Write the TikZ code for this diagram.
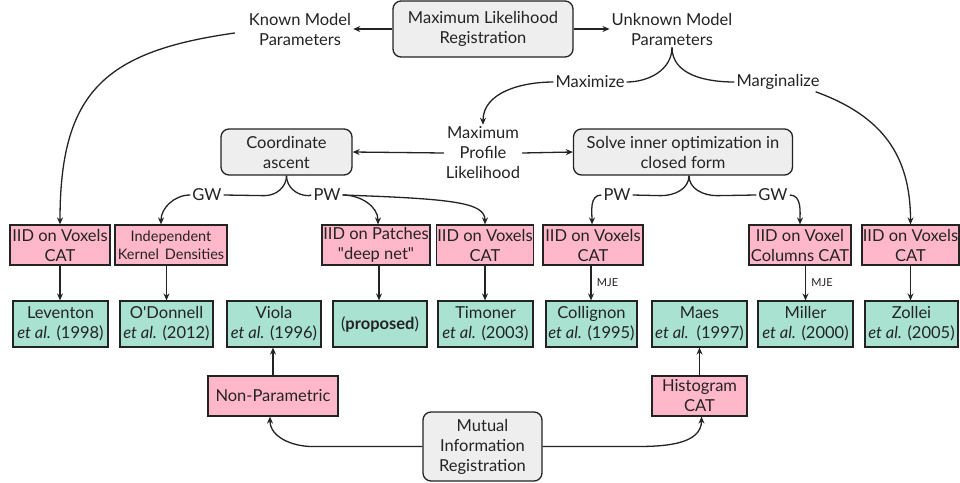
\documentclass[tikz,border=0pt]{standalone}
\usepackage{fontspec}
\setmainfont{Lato}
\usetikzlibrary{arrows.meta,calc}
\definecolor{pk}{RGB}{255,183,201}
\definecolor{gr}{RGB}{170,226,210}
\definecolor{gy}{RGB}{238,238,238}
\definecolor{ln}{RGB}{35,35,35}
\begin{document}
\begin{tikzpicture}[x=1pt,y=1pt,
  every node/.style={font=\fontsize{16.5}{20}\selectfont, align=center, text=ln},
  rbox/.style={draw=ln, line width=1.3pt, fill=gy, rounded corners=8pt, minimum height=46pt, inner sep=0pt},
  pbox/.style={draw=ln, line width=1.2pt, fill=pk, minimum height=40pt, inner sep=0pt},
  gbox/.style={draw=ln, line width=1.2pt, fill=gr, minimum height=46pt, inner sep=0pt},
  txt/.style={inner sep=2pt},
  small/.style={font=\fontsize{11}{13}\selectfont},
  conn/.style={draw=ln, line width=1.3pt},
  arr/.style={conn, -{Stealth[length=7pt,width=6pt]}},
]
\useasboundingbox (0,0) rectangle (960,-482);

% top
\node[rbox, minimum width=180pt, minimum height=56pt] (mlr) at (483,-29) {Maximum Likelihood\\Registration};
\node[txt] (known) at (300,-29) {Known Model\\Parameters};
\node[txt] (unknown) at (672,-29) {Unknown Model\\Parameters};
\node[txt] (maxi) at (590,-82) {Maximize};
\node[txt] (marg) at (778,-82) {Marginalize};
\node[txt] (mpl) at (483,-153) {Maximum\\Profile\\Likelihood};
\node[rbox, minimum width=131pt] (ca) at (286.5,-152) {Coordinate\\ascent};
\node[rbox, minimum width=219pt] (solve) at (683,-152) {Solve inner optimization in\\closed form};
\node[txt] (gwa) at (207,-195) {GW};
\node[txt] (pwa) at (327,-195) {PW};
\node[txt] (pwb) at (617,-195) {PW};
\node[txt] (gwb) at (773,-195) {GW};

% pink row
\node[pbox, minimum width=100pt] (p1) at (60,-245) {IID on Voxels\\CAT};
\node[pbox, minimum width=112pt, font=\fontsize{14.5}{18}\selectfont] (p2) at (171,-245) {Independent\\Kernel\hspace{6pt}Densities};
\node[pbox, minimum width=108pt] (p3) at (376,-245) {IID on Patches\\\textquotedbl deep net\textquotedbl};
\node[pbox, minimum width=97pt] (p4) at (485,-245) {IID on Voxels\\CAT};
\node[pbox, minimum width=100pt] (p5) at (593,-245) {IID on Voxels\\CAT};
\node[pbox, minimum width=102pt] (p6) at (800,-245) {IID on Voxel\\Columns CAT};
\node[pbox, minimum width=97pt] (p7) at (910.5,-245) {IID on Voxels\\CAT};

% green row
\node[gbox, minimum width=95pt] (g1) at (60.5,-324) {Leventon\\\textit{et al.} (1998)};
\node[gbox, minimum width=93pt] (g2) at (166.5,-324) {O\textquotesingle Donnell\\\textit{et al.} (2012)};
\node[gbox, minimum width=94pt] (g3) at (274,-324) {Viola\\\textit{et al.} (1996)};
\node[gbox, minimum width=94pt] (g4) at (380,-324) {(\textbf{proposed})};
\node[gbox, minimum width=95pt] (g5) at (485.5,-324) {Timoner\\\textit{et al.} (2003)};
\node[gbox, minimum width=91pt] (g6) at (591.5,-324) {Collignon\\\textit{et al.} (1995)};
\node[gbox, minimum width=95pt] (g7) at (699.5,-324) {Maes\\\textit{et al.}\hspace{8pt}(1997)};
\node[gbox, minimum width=95pt] (g8) at (805.5,-324) {Miller\\\textit{et al.} (2000)};
\node[gbox, minimum width=93pt] (g9) at (911.5,-324) {Zollei\\\textit{et al.} (2005)};

% bottom
\node[pbox, minimum width=130pt] (np) at (273,-396) {Non-Parametric};
\node[pbox, minimum width=95pt] (hist) at (699.5,-396) {Histogram\\CAT};
\node[rbox, minimum width=119pt, minimum height=69pt] (mi) at (482.5,-446.5) {Mutual\\Information\\Registration};

% connectors top
\draw[arr] (mlr.west) -- (known.east);
\draw[arr] (mlr.east) -- (unknown.west);
\draw[arr] ([xshift=-12pt,yshift=-4pt]known.west) to[out=188,in=90,looseness=1.3] (p1.north);
\draw[conn] (unknown.south) to[out=-90,in=0] (maxi.east);
\draw[conn] (unknown.south) to[out=-90,in=180] (marg.west);
\draw[arr] (maxi.west) to[out=180,in=90] (mpl.north);
\draw[arr] ([xshift=-6pt]marg.south east) to[out=-20,in=90,looseness=1.1] (p7.north);
\draw[arr] (mpl.west) -- (ca.east);
\draw[arr] (mpl.east) -- (solve.west);

% coordinate ascent brace
\draw[conn] (ca.south) to[out=-90,in=0] ++(-22,-20) -- (gwa.east);
\draw[conn] (ca.south) to[out=-90,in=180] ++(22,-20) -- (pwa.west);
\draw[arr] (gwa.west) to[out=180,in=90] ([xshift=-10pt]p2.north);
\draw[arr] (pwa.east) to[out=0,in=90] ([xshift=2pt]p3.north);
\draw[arr] (pwa.east) to[out=-2,in=90,out distance=110pt,in distance=22pt] (p4.north);

% solve brace
\draw[conn] ([xshift=6pt]solve.south) to[out=-90,in=0] ++(-28,-20) -- (pwb.east);
\draw[conn] ([xshift=6pt]solve.south) to[out=-90,in=180] ++(28,-20) -- (gwb.west);
\draw[arr] (pwb.west) to[out=180,in=90] ([xshift=-1pt]p5.north);
\draw[arr] (gwb.east) to[out=0,in=90] (p6.north);

% vertical arrows
\draw[arr] (p1.south) -- (p1.south |- g1.north);
\draw[arr] (g2.north |- p2.south) -- (g2.north);
\draw[arr] ([xshift=3pt]p3.south) -- ([xshift=3pt]p3.south |- g4.north);
\draw[arr] (p4.south) -- (p4.south |- g5.north);
\draw[arr] ([xshift=-2pt]p5.south) -- node[right, small, xshift=2pt] {MJE} ([xshift=-2pt]p5.south |- g6.north);
\draw[arr] (g8.north |- p6.south) -- node[right, small, xshift=2pt] {MJE} (g8.north);
\draw[arr] (p7.south) -- (p7.south |- g9.north);
\draw[arr] (np.north) -- (np.north |- g3.south);
\draw[arr] (hist.north) -- (hist.north |- g7.south);

% mutual information
\draw[arr] (mi.west) -- ++(-110,0) to[out=180,in=-90] ([xshift=-3pt]np.south);
\draw[arr] (mi.east) -- ++(95,0) to[out=0,in=-90] ([xshift=2pt]hist.south);
\end{tikzpicture}
\end{document}
